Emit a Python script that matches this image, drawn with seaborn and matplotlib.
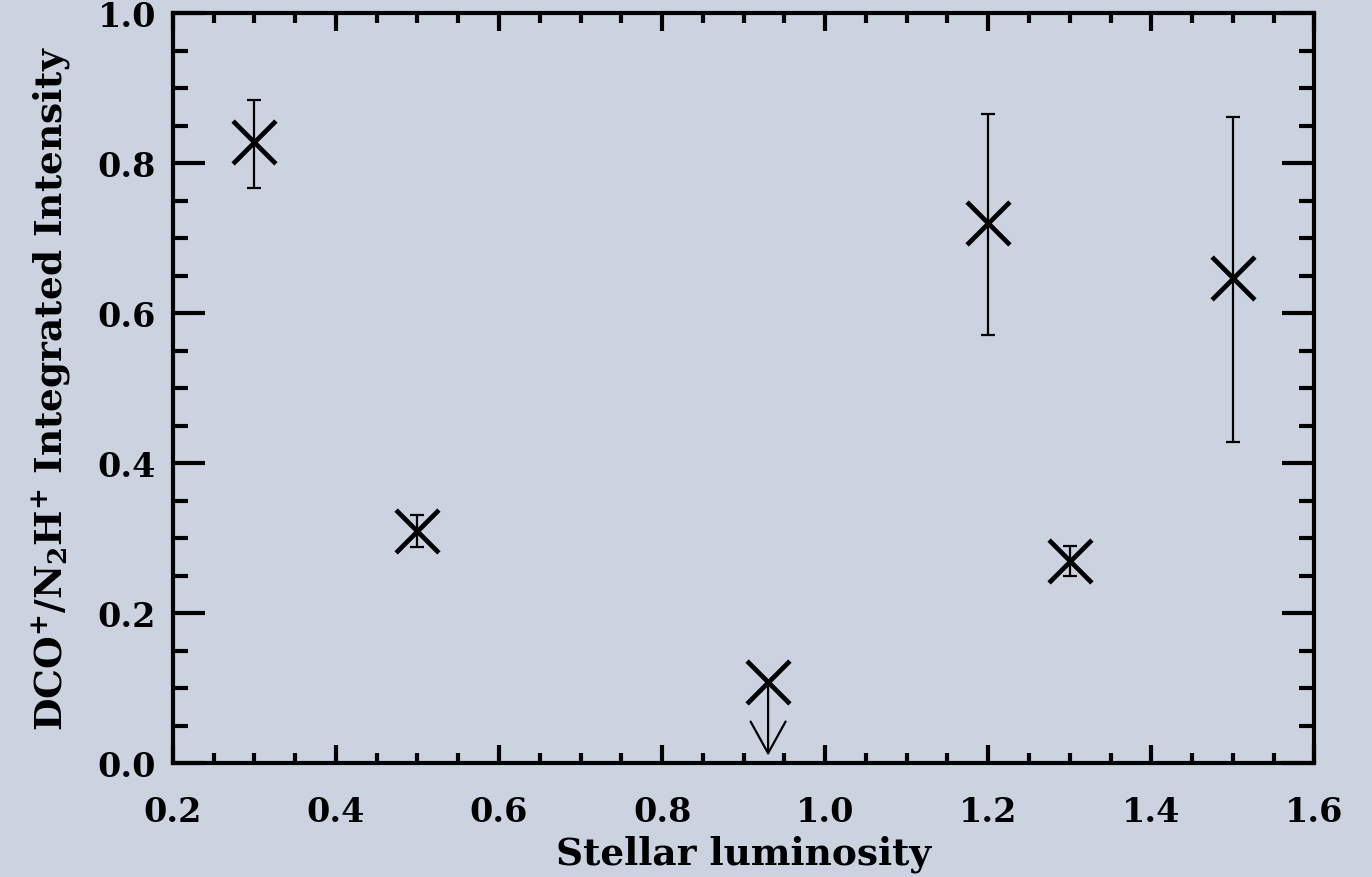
import matplotlib
matplotlib.use("Agg")
import matplotlib.pyplot as plt
import seaborn as sns
import pandas as pd
import numpy as np
from matplotlib.ticker import MultipleLocator, FormatStrFormatter

# Data
luminosity = [0.3, 0.5, 1.2, 1.3, 1.5]
ratio = [0.828, 0.309, 0.720, 0.269, 0.647]
err_low = [0.061, 0.021, 0.149, 0.020, 0.219]
err_high = [0.056, 0.022, 0.145, 0.020, 0.214]

ul_luminosity = [0.93]
ul_ratio = [0.108]
ul_arrow_end = [0.01]

bg = "#CBD3E1"
sns.set_theme(style="ticks")
plt.rcParams["font.family"] = ["DejaVu Serif"]
plt.rcParams["font.weight"] = "bold"
plt.rcParams["axes.labelweight"] = "bold"
plt.rcParams["mathtext.fontset"] = "custom"
plt.rcParams["mathtext.rm"] = "DejaVu Serif:bold"
plt.rcParams["mathtext.default"] = "rm"

fig = plt.figure(figsize=(13.72, 8.78), dpi=100, facecolor=bg)
ax = fig.add_axes([0.126, 0.1298, 0.832, 0.8542])
ax.set_facecolor(bg)

df = pd.DataFrame({"L": luminosity + ul_luminosity, "R": ratio + ul_ratio})

ax.errorbar(luminosity, ratio, yerr=[err_low, err_high], fmt="none",
            ecolor="black", elinewidth=1.6, capsize=5, capthick=1.6, zorder=2)
sns.scatterplot(data=df, x="L", y="R", marker="x", s=950, color="black",
                linewidth=3.4, ax=ax, zorder=3)

for xv, y0, y1 in zip(ul_luminosity, ul_ratio, ul_arrow_end):
    ax.annotate("", xy=(xv, y1), xytext=(xv, y0),
                arrowprops=dict(arrowstyle="->,head_length=1.9,head_width=1.05",
                                color="black", lw=1.6, shrinkA=0, shrinkB=0),
                zorder=2)

ax.set_xlim(0.2, 1.6)
ax.set_ylim(0.0, 1.0)
ax.xaxis.set_major_locator(MultipleLocator(0.2))
ax.xaxis.set_minor_locator(MultipleLocator(0.05))
ax.yaxis.set_major_locator(MultipleLocator(0.2))
ax.yaxis.set_minor_locator(MultipleLocator(0.05))
ax.xaxis.set_major_formatter(FormatStrFormatter("%.1f"))
ax.yaxis.set_major_formatter(FormatStrFormatter("%.1f"))

ax.tick_params(axis="both", which="both", direction="in", top=True, right=True,
               width=3, color="black", labelsize=24, labelcolor="black")
ax.tick_params(axis="x", which="major", length=13, pad=23)
ax.tick_params(axis="x", which="minor", length=7)
ax.tick_params(axis="y", which="major", length=23, pad=12)
ax.tick_params(axis="y", which="minor", length=11)

for sp in ax.spines.values():
    sp.set_linewidth(3)
    sp.set_color("black")
    sp.set_visible(True)

ax.set_xlabel("Stellar luminosity", fontsize=27, fontweight="bold",
              color="black", labelpad=5)
ax.set_ylabel("DCO$^{+}$/N$_{2}$H$^{+}$ Integrated Intensity", fontsize=27,
              fontweight="bold", color="black", labelpad=18)

fig.savefig("out.png", dpi=100, facecolor=bg)
